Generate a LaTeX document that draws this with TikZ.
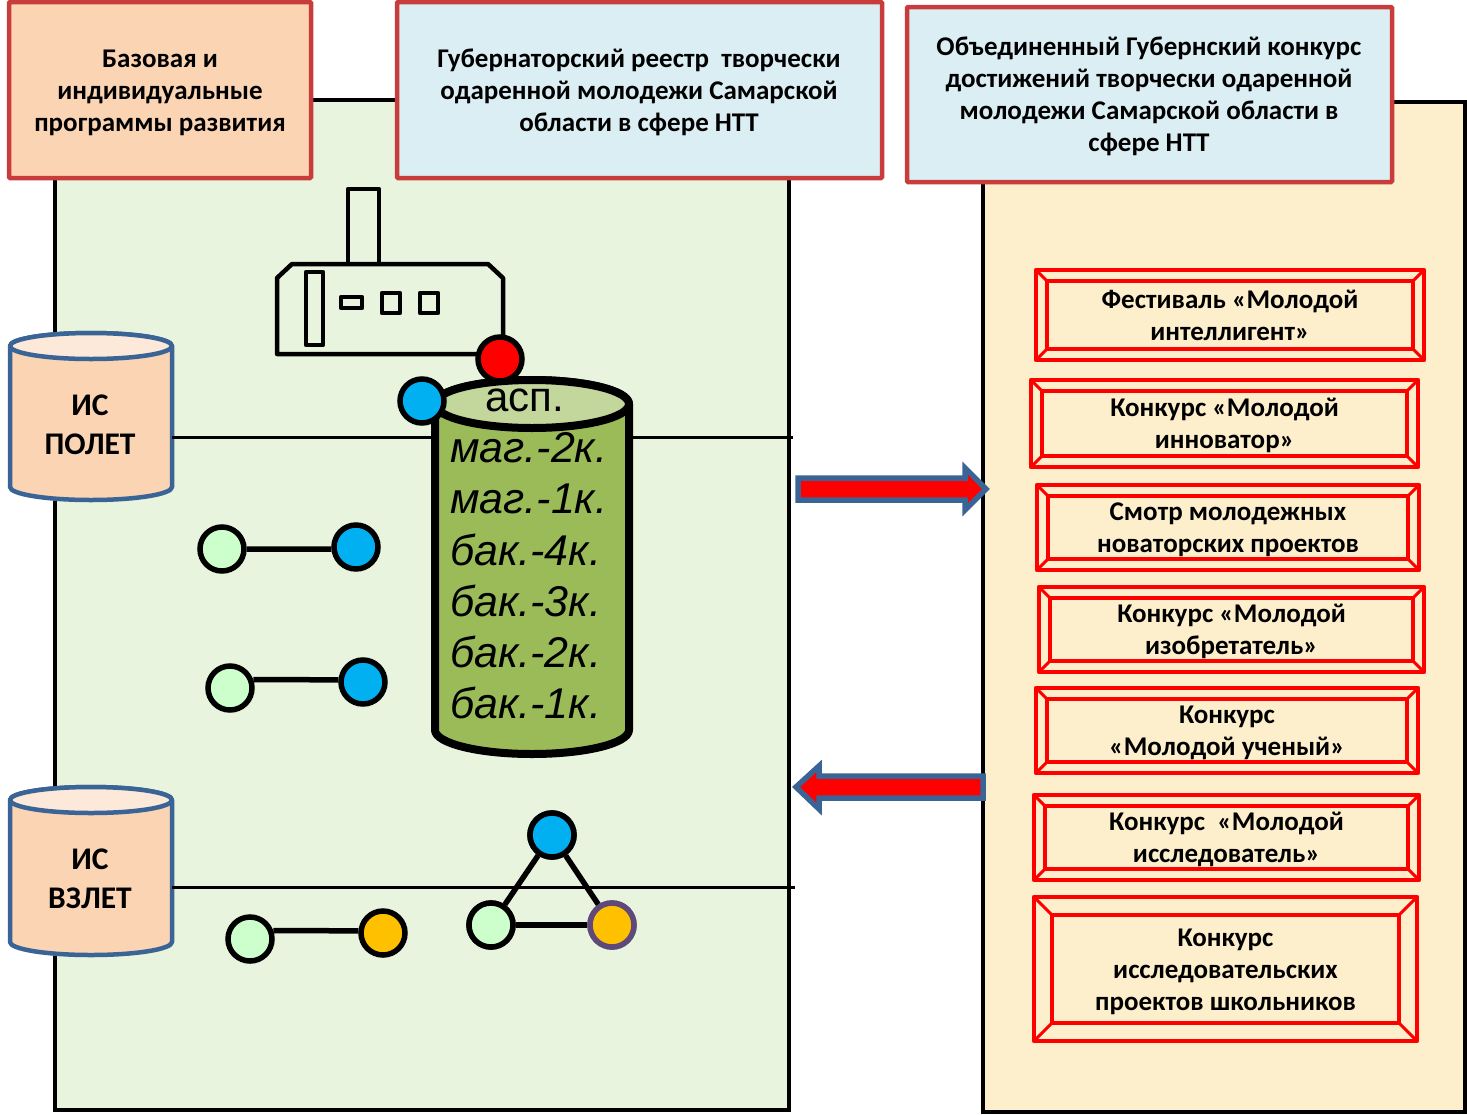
\documentclass[tikz,border=0pt]{standalone}
\usepackage{fontspec}
\setmainfont{Carlito}
\newfontfamily\arialf{Liberation Sans}
\usetikzlibrary{calc}
\definecolor{panelgreen}{HTML}{E9F4DE}
\definecolor{panelyellow}{HTML}{FEEFCC}
\definecolor{peach}{HTML}{FBD4B4}
\definecolor{peachlight}{HTML}{FDE9D9}
\definecolor{paleblue}{HTML}{DBEEF4}
\definecolor{brick}{HTML}{C83C3C}
\definecolor{steel}{HTML}{3B6496}
\definecolor{cylgreen}{HTML}{9BBB59}
\definecolor{cyllight}{HTML}{C3D69B}
\definecolor{mint}{HTML}{CCFFCC}
\definecolor{sky}{HTML}{00B0F0}
\definecolor{amber}{HTML}{FFC000}
\definecolor{ringpurple}{HTML}{5F497A}
\tikzset{
  panel/.style={draw=black,line width=4.5pt},
  topbox/.style={draw=brick,line width=4.5pt,rounded corners=1pt},
  boxtext/.style={font=\fontsize{27}{32}\selectfont\bfseries,align=center,inner sep=0pt,text=black},
  istext/.style={font=\fontsize{31.5}{39}\selectfont\bfseries,align=center,inner sep=0pt,text=black},
  cyltext/.style={font=\arialf\fontsize{43}{43}\selectfont\itshape,anchor=west,inner sep=0pt},
  dot/.style={circle,draw=black,line width=5.5pt,minimum size=44pt,inner sep=0pt},
  link/.style={draw=black,line width=5.5pt},
  hline/.style={draw=black,line width=3pt},
  factory/.style={draw=black,line width=4.5pt,fill=panelgreen,line join=round},
  bigarrow/.style={draw=steel,fill=red,line width=5.5pt,line join=miter},
  bevel/.style={draw=red,line width=4.6pt,line join=round},
  dbcyl/.style={draw=steel,line width=4.5pt,line join=round}
}
\newcommand{\bevelbox}[8]{% name,x1,y1,x2,y2,b,text dy,text
  \draw[bevel] (#2,#3) rectangle (#4,#5);
  \draw[bevel] (#2+#6,#3+#6) rectangle (#4-#6,#5-#6);
  \draw[bevel,line width=3pt] (#2,#3) -- (#2+#6,#3+#6) (#4,#3) -- (#4-#6,#3+#6)
     (#2,#5) -- (#2+#6,#5-#6) (#4,#5) -- (#4-#6,#5-#6);
  \node[boxtext] (#1) at ({(#2+#4)/2},{(#3+#5)/2+#7}) {#8};
}
\newcommand{\dbcylinder}[8]{% x1,x2,top cy,bottom cy,ry,topfill,bodyfill,style
  \draw[#8,fill=#7] (#1,#3) -- (#1,#4) arc[start angle=180,end angle=0,x radius={(#2-#1)/2},y radius=#5]
     -- (#2,#3) arc[start angle=0,end angle=-180,x radius={(#2-#1)/2},y radius=#5] -- cycle;
  \draw[#8,fill=#6] ({(#1+#2)/2},#3) ellipse[x radius={(#2-#1)/2},y radius=#5];
}
\begin{document}
\begin{tikzpicture}[x=1pt,y=-1pt]
\useasboundingbox (0,0) rectangle (1467,1114);
% panels
\draw[panel,fill=panelgreen] (55,100) rectangle (789,1110);
\draw[panel,fill=panelyellow] (983,102) rectangle (1465,1112);
% horizontal rules
\coordinate (r1) at (793,437);
\coordinate (r2) at (795,887);
% database cylinders
\dbcylinder{10}{172}{346}{487}{13}{peachlight}{peach}{dbcyl}
\dbcylinder{10}{172}{800}{942}{13}{peachlight}{peach}{dbcyl}
\node[istext] (polet) at (90,425) {ИС\\ПОЛЕТ};
\node[istext] (vzlet) at (90,879) {ИС\\ВЗЛЕТ};
\draw[hline] (172,437) -- (r1);
\draw[hline] (172,887) -- (r2);
% top boxes
\draw[topbox,fill=peach] (9,2) rectangle (311,178);
\node[boxtext] (t1) at (160,92.5) {Базовая и\\индивидуальные\\программы развития};
\draw[topbox,fill=paleblue] (397,2) rectangle (882,178);
\node[boxtext] (t2) at (639,92) {Губернаторский реестр\ \ творчески\\одаренной молодежи Самарской\\области в сфере НТТ};
\draw[topbox,fill=paleblue] (907,7) rectangle (1392,182);
\node[boxtext] (t3) at (1149,96) {Объединенный Губернский конкурс\\достижений творчески одаренной\\молодежи Самарской области в\\сфере НТТ};
% factory
\draw[factory] (348,264) -- (348,189) -- (379,189) -- (379,264);
\draw[factory] (277,278) -- (292,264) -- (488,264) -- (503,278) -- (503,354) -- (277,354) -- cycle;
\draw[factory] (306,272) rectangle (323,345);
\draw[factory] (341,297) rectangle (362,308);
\draw[factory] (382,293) rectangle (400,313);
\draw[factory] (420,293) rectangle (438,313);
% main cylinder
\dbcylinder{435}{629}{404}{730}{24}{cyllight}{cylgreen}{draw=black,line width=8pt,line join=round}
\node[font=\arialf\fontsize{42}{42}\selectfont,inner sep=0pt] (asp) at (525,400) {асп.};
\node[cyltext] (c1) at (450,448) {маг.-2к.};
\node[cyltext] (c2) at (450,499) {маг.-1к.};
\node[cyltext] (c3) at (450,550) {бак.-4к.};
\node[cyltext] (c4) at (450,601) {бак.-3к.};
\node[cyltext] (c5) at (450,652) {бак.-2к.};
\node[cyltext] (c6) at (450,703) {бак.-1к.};
% dots
\node[dot,fill=red] (red) at (500,359) {};
\node[dot,fill=sky] (blue) at (422,401) {};
\node[dot,fill=mint] (g1) at (222,549) {};
\node[dot,fill=sky] (b1) at (356,547) {};
\node[dot,fill=mint] (g2) at (230,688) {};
\node[dot,fill=sky] (b2) at (363,682) {};
\node[dot,fill=mint] (g3) at (250,939) {};
\node[dot,fill=amber] (a3) at (383,933) {};
\node[dot,fill=sky] (tt) at (552,835) {};
\node[dot,fill=mint] (tl) at (491,925) {};
\node[dot,fill=amber,draw=ringpurple] (tr) at (612,925) {};
\draw[link] (g1.east) -- (b1.185);
\draw[link] (g2.20) -- (b2.175);
\draw[link] (g3.20) -- (a3.175);
\draw[link] (tt) -- (tl);
\draw[link] (tl) -- (tr);
\draw[link] (tt) -- (tr);
\node[dot,fill=sky] at (tt) {};
\node[dot,fill=mint] at (tl) {};
\node[dot,fill=amber,draw=ringpurple] at (tr) {};
% arrows
\draw[bigarrow] (798,478) -- (965,478) -- (965,468) -- (986,489) -- (965,510) -- (965,500) -- (798,500) -- cycle;
\draw[bigarrow] (983,776) -- (819,776) -- (819,766) -- (796,787) -- (819,809) -- (819,798) -- (983,798) -- cycle;
% bevel boxes
\bevelbox{f1}{1036}{270}{1424}{360}{11}{0}{Фестиваль «Молодой\\интеллигент»}
\bevelbox{f2}{1031}{380}{1418}{467}{11}{2}{Конкурс «Молодой\\инноватор»}
\bevelbox{f3}{1037}{485}{1419}{570}{11}{2}{Смотр молодежных\\новаторских проектов}
\bevelbox{f4}{1039}{587}{1424}{672}{11}{2}{Конкурс «Молодой\\изобретатель»}
\bevelbox{f5}{1036}{688}{1418}{773}{11}{2}{Конкурс\\«Молодой ученый»}
\bevelbox{f6}{1034}{795}{1419}{880}{11}{2}{Конкурс\ \ «Молодой\\исследователь»}
\bevelbox{f7}{1034}{897}{1417}{1041}{18}{3}{Конкурс\\исследовательских\\проектов школьников}
\end{tikzpicture}
\end{document}
